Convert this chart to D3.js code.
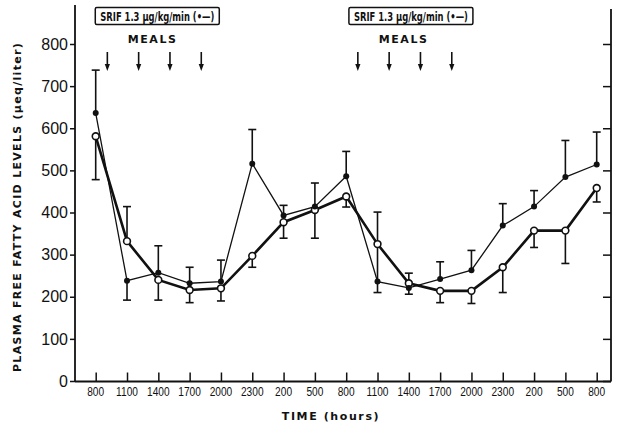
<!DOCTYPE html>
<html>
<head>
<meta charset="utf-8">
<script src="https://cdn.jsdelivr.net/npm/d3@7/dist/d3.min.js"></script>
<style>
  html, body { margin: 0; padding: 0; background: #fff; }
  svg { display: block; }
  text { fill: #111; }
</style>
</head>
<body>
<svg id="chart" width="619" height="425"></svg>
<script>
// ---- data ----
const hours = [8, 11, 14, 17, 20, 23, 26, 29, 32, 35, 38, 41, 44, 47, 50, 53, 56];
const tickLabels = ["800", "1100", "1400", "1700", "2000", "2300", "200", "500", "800", "1100", "1400", "1700", "2000", "2300", "200", "500", "800"];
// SRIF (filled circles, thin line)
const srifValues = [636, 238, 257, 232, 236, 516, 393, 414, 486, 236, 221, 242, 263, 369, 414, 484, 514];
const srifErrUp  = [738, null, 321, 270, 287, 597, 417, 470, 545, 401, 256, 283, 310, 421, 452, 571, 591];
const srifErrDown = [null, 192, null, null, null, null, null, null, null, 210, null, null, null, null, null, null, null];
// Control (open circles, thick line)
const ctrlValues = [581, 332, 240, 216, 220, 297, 377, 406, 438, 325, 232, 214, 214, 270, 357, 357, 458];
const ctrlErrUp   = [null, 414, null, null, null, null, null, null, null, null, null, null, null, null, null, null, null];
const ctrlErrDown = [478, null, 192, 186, 190, 270, 339, 339, 413, null, 206, 186, 184, 210, 317, 279, 425];
const yTicks = [0, 100, 200, 300, 400, 500, 600, 700, 800];
const mealHours = [9, 12, 15, 18, 33, 36, 39, 42];
const boxLabels = ["SRIF 1.3 \u03bcg/kg/min (\u2022\u2014)", "SRIF 1.3 \u03bcg/kg/min (\u2022\u2014)"];
const boxCenters = [13.9, 38.2];
const mealLabelCenters = [13.45, 37.5];

// ---- layout ----
const svg = d3.select("#chart");
const x = d3.scaleLinear().domain([8, 56]).range([95.7, 596.7]);
const y = d3.scaleLinear().domain([0, 800]).range([381, 44]);
const left = 75, right = 611, bottom = 381.5;
const ink = "#111";

// frame lines
svg.append("line").attr("x1", left).attr("x2", left).attr("y1", 5).attr("y2", bottom)
  .attr("stroke", ink).attr("stroke-width", 1.8);
svg.append("line").attr("x1", right).attr("x2", right).attr("y1", 9).attr("y2", bottom)
  .attr("stroke", ink).attr("stroke-width", 1.8);
svg.append("line").attr("x1", left).attr("x2", right).attr("y1", bottom).attr("y2", bottom)
  .attr("stroke", ink).attr("stroke-width", 1.8);

// left y axis (outward ticks)
const yAxisL = d3.axisLeft(y).tickValues(yTicks).tickSize(5).tickPadding(2).tickFormat(d3.format("d"));
const gL = svg.append("g").attr("transform", `translate(${left},0)`).call(yAxisL);
gL.select(".domain").remove();
gL.selectAll(".tick line").attr("stroke", ink).attr("stroke-width", 1.5);
gL.selectAll(".tick text").attr("font-family", "'Liberation Sans', Arial, sans-serif")
  .attr("font-size", 16).attr("fill", ink);

// right y axis (inward ticks)
const yAxisR = d3.axisLeft(y).tickValues(yTicks).tickSize(8).tickFormat("");
const gR = svg.append("g").attr("transform", `translate(${right},0)`).call(yAxisR);
gR.select(".domain").remove();
gR.selectAll(".tick line").attr("stroke", ink).attr("stroke-width", 1.5);

// x axis (inward ticks)
const xAxis = d3.axisTop(x).tickValues(hours).tickSize(9).tickFormat("");
const gX = svg.append("g").attr("transform", `translate(0,${bottom})`).call(xAxis);
gX.select(".domain").remove();
gX.selectAll(".tick line").attr("stroke", ink).attr("stroke-width", 1.5);

// x tick labels (condensed)
svg.append("g").selectAll("text").data(hours).join("text")
  .attr("x", d => x(d)).attr("y", 396)
  .attr("text-anchor", "middle")
  .attr("font-family", "'Liberation Sans', Arial, sans-serif")
  .attr("font-size", 13)
  .attr("transform", d => `translate(${x(d)},0) scale(0.78,1) translate(${-x(d)},0)`)
  .text((d, i) => tickLabels[i]);

// axis titles
svg.append("text").attr("x", 331).attr("y", 420).attr("text-anchor", "middle")
  .attr("font-family", "'DejaVu Sans', sans-serif").attr("font-size", 11).attr("font-weight", "bold")
  .attr("letter-spacing", 1.6).text("TIME (hours)");
svg.append("text")
  .attr("transform", "translate(21,207) rotate(-90)")
  .attr("text-anchor", "middle")
  .attr("font-family", "'DejaVu Sans', sans-serif").attr("font-size", 11).attr("font-weight", "bold")
  .attr("letter-spacing", 1.3)
  .text("PLASMA FREE FATTY ACID LEVELS (\u03bceq/liter)");

// top boxes
boxLabels.forEach((lab, k) => {
  const cx = x(boxCenters[k]);
  const g = svg.append("g");
  g.append("rect").attr("x", cx - 62).attr("y", 7.5).attr("width", 124).attr("height", 17)
    .attr("fill", "#fff").attr("stroke", ink).attr("stroke-width", 1.5).attr("rx", 1.5);
  g.append("text").attr("x", cx - 57).attr("y", 20.5)
    .attr("font-family", "'DejaVu Sans', sans-serif")
    .attr("font-weight", "bold").attr("font-size", 11.5)
    .attr("textLength", 114).attr("lengthAdjust", "spacingAndGlyphs")
    .text(lab);
  g.append("text").attr("x", x(mealLabelCenters[k])).attr("y", 43).attr("text-anchor", "middle")
    .attr("font-family", "'DejaVu Sans', sans-serif").attr("font-weight", "bold").attr("font-size", 11)
    .attr("letter-spacing", 1.6).text("MEALS");
});

// meal arrows
const arrows = svg.append("g");
mealHours.forEach(h => {
  const ax = x(h) + 1.2;
  arrows.append("line").attr("x1", ax).attr("x2", ax).attr("y1", 52).attr("y2", 66)
    .attr("stroke", ink).attr("stroke-width", 1.6);
  arrows.append("path").attr("d", `M${ax - 2.6},64 L${ax + 2.6},64 L${ax},71 Z`).attr("fill", ink);
});

// error bars
function errBars(vals, ends) {
  const g = svg.append("g");
  hours.forEach((h, i) => {
    const e = ends[i];
    if (e == null) return;
    const xx = x(h);
    g.append("line").attr("x1", xx).attr("x2", xx).attr("y1", y(vals[i])).attr("y2", y(e))
      .attr("stroke", ink).attr("stroke-width", 1.6);
    g.append("line").attr("x1", xx - 4).attr("x2", xx + 4).attr("y1", y(e)).attr("y2", y(e))
      .attr("stroke", ink).attr("stroke-width", 1.6);
  });
}
errBars(srifValues, srifErrUp);
errBars(srifValues, srifErrDown);
errBars(ctrlValues, ctrlErrUp);
errBars(ctrlValues, ctrlErrDown);

// lines
const line = d3.line().x((d, i) => x(hours[i])).y(d => y(d));
svg.append("path").datum(ctrlValues).attr("d", line)
  .attr("fill", "none").attr("stroke", ink).attr("stroke-width", 2.6);
svg.append("path").datum(srifValues).attr("d", line)
  .attr("fill", "none").attr("stroke", ink).attr("stroke-width", 1.3);

// markers
svg.append("g").selectAll("circle").data(ctrlValues).join("circle")
  .attr("cx", (d, i) => x(hours[i])).attr("cy", d => y(d)).attr("r", 3.4)
  .attr("fill", "#fff").attr("stroke", ink).attr("stroke-width", 1.6);
svg.append("g").selectAll("circle").data(srifValues).join("circle")
  .attr("cx", (d, i) => x(hours[i])).attr("cy", d => y(d)).attr("r", 3)
  .attr("fill", ink);
</script>
</body>
</html>
